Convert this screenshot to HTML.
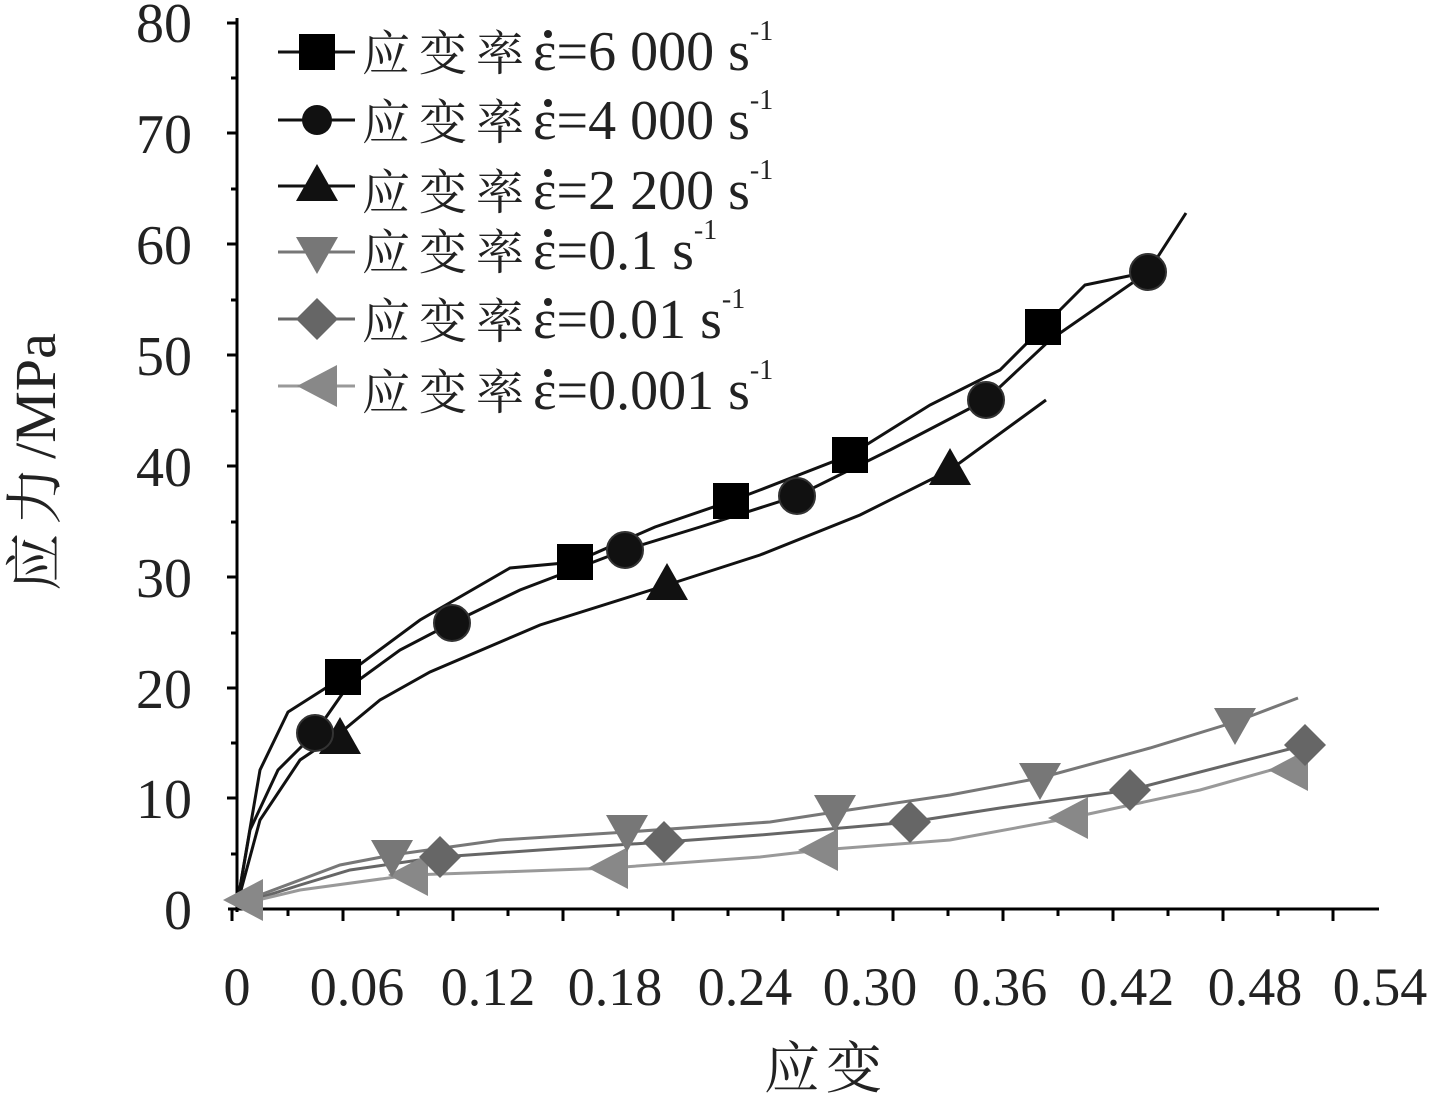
<!DOCTYPE html>
<html><head><meta charset="utf-8"><style>
body{margin:0;background:#fff}
text{font-family:"Liberation Serif","Times New Roman",serif;fill:#222}
.c{font-family:"Noto Serif CJK SC","Liberation Serif",serif}
</style></head><body>
<svg width="1431" height="1097" viewBox="0 0 1431 1097" xmlns="http://www.w3.org/2000/svg">
<g stroke="#000" stroke-width="3" fill="none">
<line x1="237" y1="18" x2="237" y2="912"/>
<line x1="228" y1="909" x2="1379" y2="909"/>
<path d="M237 23h-10M237 78h-6M237 133h-10M237 189h-6M237 244h-10M237 300h-6M237 355h-10M237 411h-6M237 466h-10M237 522h-6M237 577h-10M237 633h-6M237 688h-10M237 743h-6M237 798h-10M237 854h-6"/>
<path d="M232 909v12M288 909v7M343 909v12M398 909v7M453 909v12M508 909v7M563 909v12M618 909v7M673 909v12M728 909v7M783 909v12M838 909v7M893 909v12M948 909v7M1003 909v12M1058 909v7M1113 909v12M1168 909v7M1223 909v12M1278 909v7M1333 909v12"/>
</g>
<g font-size="56" text-anchor="end">
<text x="192" y="42">80</text><text x="192" y="153">70</text><text x="192" y="264">60</text><text x="192" y="375">50</text><text x="192" y="486">40</text><text x="192" y="597">30</text><text x="192" y="708">20</text><text x="192" y="818">10</text><text x="192" y="929">0</text>
</g>
<g font-size="54" text-anchor="middle">
<text x="237" y="1005">0</text><text x="357" y="1005">0.06</text><text x="488" y="1005">0.12</text><text x="615" y="1005">0.18</text><text x="745" y="1005">0.24</text><text x="870" y="1005">0.30</text><text x="1000" y="1005">0.36</text><text x="1127" y="1005">0.42</text><text x="1255" y="1005">0.48</text><text x="1380" y="1005">0.54</text>
</g>
<text class="c" x="826" y="1088" font-size="56" text-anchor="middle" letter-spacing="6">应变</text>
<text transform="translate(55,462) rotate(-90)" font-size="58" text-anchor="middle"><tspan class="c" letter-spacing="8">应力</tspan>/MPa</text>

<g fill="none" stroke-width="3">
<polyline stroke="#777" points="237,905 260,895 340,865 392,855 500,840 627,832 770,822 835,812 950,795 1040,778 1150,748 1235,722 1298,698"/>
<polyline stroke="#666" points="237,905 300,885 350,870 440,857 540,850 664,842 760,835 910,822 1000,808 1130,790 1305,745"/>
<polyline stroke="#999" points="237,905 300,890 410,875 500,872 610,868 760,857 820,850 950,840 1070,818 1200,790 1300,762"/>
<polyline stroke="#111" points="237,905 260,770 288,712 343,677 420,620 510,568 575,562 655,527 731,501 760,490 850,455 930,405 1000,370 1043,327 1085,285 1148,272"/>
<polyline stroke="#111" points="237,905 250,830 278,770 315,733 345,690 400,650 452,623 520,590 625,550 700,527 797,496 890,450 986,400 1050,340 1148,272 1186,213"/>
<polyline stroke="#111" points="237,905 260,820 300,760 340,733 380,700 430,672 540,625 667,585 760,555 860,515 950,470 1046,400"/>
</g>
<defs>
<path id="sq" d="M-18-18h36v36h-36z"/>
<path id="tu" d="M0-20L21 17H-21z"/>
<path id="td" d="M0 20L21-17H-21z"/>
<path id="dm" d="M0-21L21 0 0 21-21 0z"/>
<path id="tl" d="M-22 0L18-21V21z"/>
</defs>
<g fill="#888"><use href="#tl" x="410" y="875"/><use href="#tl" x="610" y="868"/><use href="#tl" x="820" y="850"/><use href="#tl" x="1070" y="818"/><use href="#tl" x="1290" y="770"/><use href="#tl" x="245" y="900"/></g>
<g fill="#666"><use href="#dm" x="440" y="857"/><use href="#dm" x="664" y="842"/><use href="#dm" x="910" y="822"/><use href="#dm" x="1130" y="790"/><use href="#dm" x="1305" y="745"/></g>
<g fill="#777"><use href="#td" x="392" y="857"/><use href="#td" x="627" y="832"/><use href="#td" x="835" y="812"/><use href="#td" x="1040" y="780"/><use href="#td" x="1235" y="725"/></g>
<g fill="#111"><use href="#tu" x="340" y="737"/><use href="#tu" x="667" y="583"/><use href="#tu" x="950" y="468"/></g>
<g fill="#111" stroke="#333" stroke-width="2"><circle cx="315" cy="733" r="18"/><circle cx="452" cy="623" r="18"/><circle cx="625" cy="550" r="18"/><circle cx="797" cy="496" r="18"/><circle cx="986" cy="400" r="18"/><circle cx="1148" cy="272" r="18"/></g>
<g fill="#000"><use href="#sq" x="343" y="677"/><use href="#sq" x="575" y="562"/><use href="#sq" x="731" y="501"/><use href="#sq" x="850" y="455"/><use href="#sq" x="1043" y="327"/></g>

<g stroke-width="3">
<line x1="278" y1="52" x2="355" y2="52" stroke="#111"/>
<line x1="278" y1="120" x2="355" y2="120" stroke="#111"/>
<line x1="278" y1="186" x2="355" y2="186" stroke="#111"/>
<line x1="278" y1="252" x2="355" y2="252" stroke="#777"/>
<line x1="278" y1="319" x2="355" y2="319" stroke="#666"/>
<line x1="278" y1="386" x2="355" y2="386" stroke="#999"/>
</g>
<use href="#sq" x="317" y="52" fill="#000"/>
<circle cx="317" cy="120" r="15" fill="#111"/>
<use href="#tu" x="317" y="184" fill="#111"/>
<use href="#td" x="317" y="254" fill="#777"/>
<use href="#dm" x="317" y="319" fill="#666"/>
<use href="#tl" x="319" y="386" fill="#888"/>
<g font-size="56">
<text x="362" y="70"><tspan class="c" font-size="48" letter-spacing="9">应变率</tspan>ε=6 000 s<tspan font-size="28" dy="-30">-1</tspan></text>
<text x="362" y="139"><tspan class="c" font-size="48" letter-spacing="9">应变率</tspan>ε=4 000 s<tspan font-size="28" dy="-30">-1</tspan></text>
<text x="362" y="209"><tspan class="c" font-size="48" letter-spacing="9">应变率</tspan>ε=2 200 s<tspan font-size="28" dy="-30">-1</tspan></text>
<text x="362" y="269"><tspan class="c" font-size="48" letter-spacing="9">应变率</tspan>ε=0.1 s<tspan font-size="28" dy="-30">-1</tspan></text>
<text x="362" y="338"><tspan class="c" font-size="48" letter-spacing="9">应变率</tspan>ε=0.01 s<tspan font-size="28" dy="-30">-1</tspan></text>
<text x="362" y="409"><tspan class="c" font-size="48" letter-spacing="9">应变率</tspan>ε=0.001 s<tspan font-size="28" dy="-30">-1</tspan></text>
</g>
<g fill="#222"><circle cx="548" cy="34" r="4"/><circle cx="548" cy="103" r="4"/><circle cx="548" cy="173" r="4"/><circle cx="548" cy="233" r="4"/><circle cx="548" cy="302" r="4"/><circle cx="548" cy="373" r="4"/></g>
</svg>
</body></html>
